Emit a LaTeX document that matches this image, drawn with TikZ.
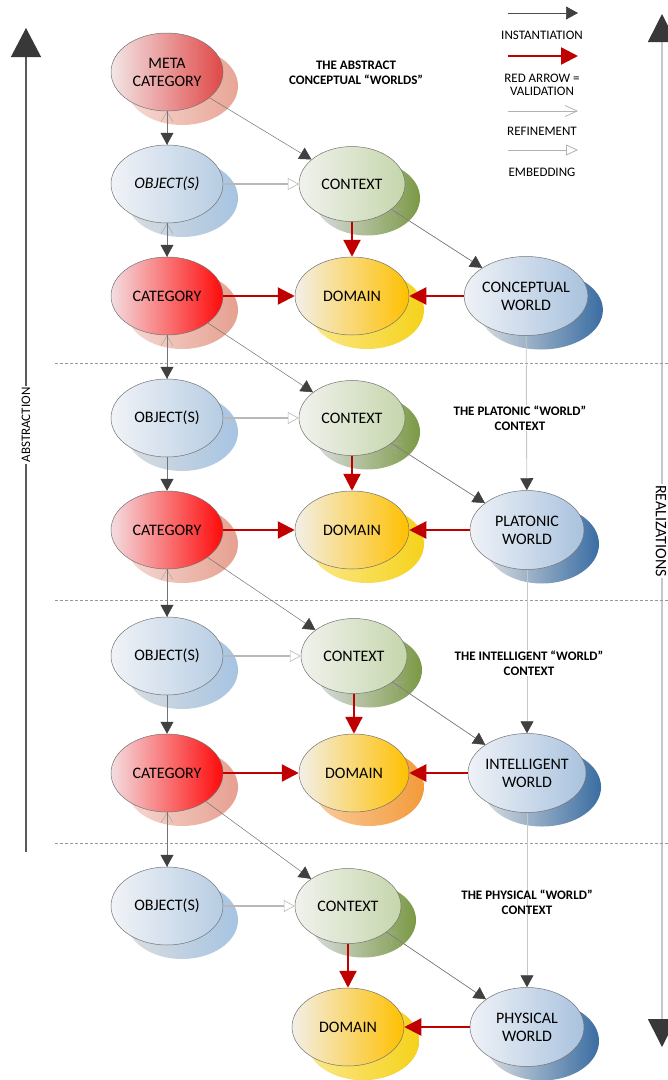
\documentclass[tikz,border=0pt]{standalone}
\usepackage{fontspec}
\setmainfont{Carlito}
\usetikzlibrary{shapes.geometric,arrows.meta}
\definecolor{metaL}{HTML}{F3E6E6}
\definecolor{metaR}{HTML}{E04848}
\definecolor{metaS}{HTML}{E8A595}
\definecolor{objL}{HTML}{F1F3F7}
\definecolor{objR}{HTML}{B7CDE3}
\definecolor{objS}{HTML}{A6C4E2}
\definecolor{ctxL}{HTML}{F1F2ED}
\definecolor{ctxR}{HTML}{C5D6AC}
\definecolor{ctxS}{HTML}{7B9944}
\definecolor{catL}{HTML}{F3DDE0}
\definecolor{catR}{HTML}{FF0A0A}
\definecolor{catS}{HTML}{E6A090}
\definecolor{domL}{HTML}{F3EFE8}
\definecolor{domR}{HTML}{FFC000}
\definecolor{domS}{HTML}{F6D21A}
\definecolor{domO}{HTML}{F39A3A}
\definecolor{wL}{HTML}{EFF2F7}
\definecolor{wR}{HTML}{A9C2DE}
\definecolor{wS}{HTML}{3A6DA2}
\definecolor{shL}{HTML}{DADDE0}
\definecolor{redc}{HTML}{C00000}
\definecolor{headc}{HTML}{404040}
\newcommand\lbl{\fontsize{16}{18}\selectfont}
\newcommand\leg{\fontsize{13}{12.5}\selectfont}
\newcommand\ttl{\bfseries\fontsize{13}{15}\selectfont}
\begin{document}
\begin{tikzpicture}[x=1pt,y=-1pt,
  ell/.style n args={4}{ellipse, draw=black!55, line width=0.5pt,
    minimum width=112pt, minimum height=78pt, inner sep=0pt, align=center, font=\lbl,
    preaction={draw=none, left color=#3, right color=#4,
      transform canvas={shift={(15pt,-14pt)}}},
    left color=#1, right color=#2},
  metabox/.style={ell={metaL}{metaR}{metaS!40!white}{metaS}},
  objbox/.style={ell={objL}{objR}{shL}{objS}},
  ctxbox/.style={ell={ctxL}{ctxR}{shL}{ctxS}, minimum width=106pt, minimum height=75pt},
  catbox/.style={ell={catL}{catR}{catS!40!white}{catS}},
  dombox/.style={ell={domL}{domR}{domS!50!white}{domS}, minimum width=114pt},
  domobox/.style={ell={domL}{domR}{domO!50!white}{domO}, minimum width=110pt},
  wbox/.style={ell={wL}{wR}{shL}{wS}, minimum width=114pt, minimum height=79pt},
  inst/.style={draw=black!55, line width=0.5pt, -{Triangle[length=12pt,width=13pt,color=headc]}},
  winst/.style={draw=black!22, line width=0.9pt, -{Triangle[length=12pt,width=13pt,color=headc]}},
  valid/.style={draw=redc, line width=2.3pt, -{Triangle[length=17pt,width=17pt,color=redc]}},
  refine/.style={draw=black!35, line width=0.5pt, -{Straight Barb[length=10pt,width=12pt]}},
  embed/.style={draw=black!28, line width=1.1pt, -{Triangle[open,length=11pt,width=12pt,fill=white,line width=0.6pt]}},
  sep/.style={draw=black!40, line width=0.5pt, dash pattern=on 3pt off 2pt},
  ttlbox/.style={font=\ttl, align=center, inner sep=1pt},
  legbox/.style={font=\leg, align=center, inner sep=0pt}
]
\useasboundingbox (0,0) rectangle (668,1080);

% axes
\coordinate (la1) at (26,852);
\coordinate (la2) at (26,28);
\coordinate (ra1) at (662,14);
\coordinate (ra2) at (662,1047);
\draw[draw=black!65, line width=1.2pt, -{Triangle[length=29pt,width=30pt,color=black!78]}] (la1) -- (la2);
\draw[draw=black!22, line width=1.6pt, {Triangle[length=28pt,width=28pt,color=black!78]}-{Triangle[length=28pt,width=28pt,color=black!78]}] (ra1) -- (ra2);
\node[rotate=90, fill=white, inner sep=1.5pt, font=\fontsize{13}{14}\selectfont] (absl) at (26,425) {ABSTRACTION};
\node[rotate=-90, fill=white, inner sep=1.5pt, font=\fontsize{16}{17}\selectfont] (reall) at (661,531) {REALIZATIONS};

% separators
\coordinate (s1a) at (55,363); \coordinate (s1b) at (668,363);
\coordinate (s2a) at (55,600); \coordinate (s2b) at (668,600);
\coordinate (s3a) at (55,843); \coordinate (s3b) at (668,843);
\draw[sep] (s1a) -- (s1b);
\draw[sep] (s2a) -- (s2b);
\draw[sep] (s3a) -- (s3b);

% legend
\coordinate (g1a) at (508,13); \coordinate (g1b) at (578,13);
\coordinate (g2a) at (508,56); \coordinate (g2b) at (578,56);
\coordinate (g3a) at (508,111); \coordinate (g3b) at (578,111);
\coordinate (g4a) at (508,150); \coordinate (g4b) at (578,150);
\draw[draw=black!70, line width=0.7pt, -{Triangle[length=12pt,width=13pt,color=headc]}] (g1a) -- (g1b);
\draw[valid] (g2a) -- (g2b);
\draw[draw=black!30, line width=0.8pt, -{Straight Barb[length=12pt,width=11pt]}] (g3a) -- (g3b);
\draw[draw=black!30, line width=0.8pt, -{Triangle[open,length=12pt,width=11pt,fill=white]}] (g4a) -- (g4b);
\node[legbox] (t1) at (542,35) {INSTANTIATION};
\node[legbox] (t2) at (542,85) {RED ARROW =\\VALIDATION};
\node[legbox] (t3) at (542,131) {REFINEMENT};
\node[legbox] (t4) at (542,172) {EMBEDDING};

% nodes
\node[metabox] (meta) at (167,72) {META\\CATEGORY};
\node[objbox] (objB) at (167,184) {\itshape OBJECT(S)};
\node[ctxbox] (ctxB) at (352,184) {CONTEXT};
\node[catbox] (catC) at (167,296) {CATEGORY};
\node[dombox] (domC) at (352,296) {DOMAIN};
\node[wbox] (wC) at (526,296) {CONCEPTUAL\\WORLD};

\node[objbox] (objD) at (167,418) {OBJECT(S)};
\node[ctxbox] (ctxD) at (352,418) {CONTEXT};
\node[catbox] (catE) at (167,530) {CATEGORY};
\node[dombox] (domE) at (352,530) {DOMAIN};
\node[wbox] (wE) at (527,530) {PLATONIC\\WORLD};

\node[objbox] (objF) at (167,656) {OBJECT(S)};
\node[ctxbox] (ctxF) at (354,656) {CONTEXT};
\node[catbox] (catG) at (167,773) {CATEGORY};
\node[domobox] (domG) at (354,773) {DOMAIN};
\node[wbox] (wG) at (527,773) {INTELLIGENT\\WORLD};

\node[objbox] (objH) at (167,906) {OBJECT(S)};
\node[ctxbox] (ctxH) at (348,906) {CONTEXT};
\node[domobox, ell={domL}{domR}{domS!50!white}{domS}] (domI) at (348,1027) {DOMAIN};
\node[wbox] (wI) at (527,1027) {PHYSICAL\\WORLD};

% left column links
\draw[refine] (objB) -- (meta);
\draw[inst] (meta) -- (objB);
\draw[refine] (catC) -- (objB);
\draw[inst] (objB) -- (catC);
\draw[refine] (objD) -- (catC);
\draw[inst] (catC) -- (objD);
\draw[inst] (objD) -- (catE);
\draw[refine] (objF) -- (catE);
\draw[inst] (catE) -- (objF);
\draw[inst] (objF) -- (catG);
\draw[refine] (objH) -- (catG);
\draw[inst] (catG) -- (objH);

% diagonals to contexts
\draw[inst] (meta) -- (ctxB);
\draw[inst] (catC) -- (ctxD);
\draw[inst] (catE) -- (ctxF);
\draw[inst] (catG) -- (ctxH);

% embedding
\draw[embed] (objB) -- (ctxB);
\draw[embed] (objD) -- (ctxD);
\draw[embed] (objF) -- (ctxF);
\draw[embed] (objH) -- (ctxH);

% context <-> world
\draw[refine] (wC) -- (ctxB);
\draw[inst] (ctxB) -- (wC);
\draw[refine] (wE) -- (ctxD);
\draw[inst] (ctxD) -- (wE);
\draw[refine] (wG) -- (ctxF);
\draw[inst] (ctxF) -- (wG);
\draw[refine] (wI) -- (ctxH);
\draw[inst] (ctxH) -- (wI);

% worlds chain
\draw[winst] (wC) -- (wE);
\draw[winst] (wE) -- (wG);
\draw[winst] (wG) -- (wI);

% validation
\draw[valid] (ctxB) -- (domC);
\draw[valid] (catC) -- (domC);
\draw[valid] (wC) -- (domC);
\draw[valid] (ctxD) -- (domE);
\draw[valid] (catE) -- (domE);
\draw[valid] (wE) -- (domE);
\draw[valid] (ctxF) -- (domG);
\draw[valid] (catG) -- (domG);
\draw[valid] (wG) -- (domG);
\draw[valid] (ctxH) -- (domI);
\draw[valid] (wI) -- (domI);

% titles
\node[ttlbox] (ttA) at (356,73) {THE ABSTRACT\\CONCEPTUAL “WORLDS”};
\node[ttlbox, fill=white] (ttB) at (520,418) {THE PLATONIC “WORLD”\\CONTEXT};
\node[ttlbox, fill=white] (ttC) at (529,663) {THE INTELLIGENT “WORLD”\\CONTEXT};
\node[ttlbox] (ttD) at (527,902) {THE PHYSICAL “WORLD”\\CONTEXT};
\end{tikzpicture}
\end{document}
